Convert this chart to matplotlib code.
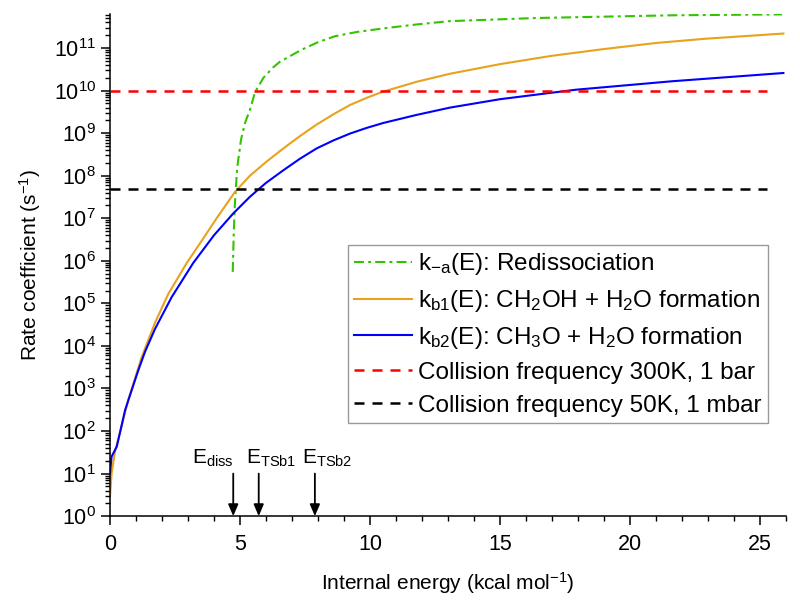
import numpy as np
import matplotlib
matplotlib.use("Agg")
import matplotlib.pyplot as plt
from matplotlib.ticker import LogLocator, MultipleLocator, LogFormatterMathtext, NullFormatter

plt.rcParams["font.family"] = ["Liberation Sans", "DejaVu Sans"]
plt.rcParams["mathtext.fontset"] = "custom"
plt.rcParams["mathtext.rm"] = "Liberation Sans"
plt.rcParams["mathtext.it"] = "Liberation Sans:italic"
plt.rcParams["mathtext.default"] = "regular"

# k_-a(E): redissociation
e_a = [4.72, 4.76, 4.80, 4.85, 4.90, 5.04, 5.20, 5.38, 5.58, 5.90, 6.27, 6.54, 7.36,
       8.0, 8.65, 9.5, 10.6, 11.8, 13.05, 16.4, 21.6, 25.85]
k_a = [5.5e5, 4.5e6, 2.0e7, 6.3e7, 1.7e8, 7.1e8, 1.8e9, 3.5e9, 9.3e9, 2.0e10, 3.5e10,
       4.8e10, 9.1e10, 1.38e11, 1.9e11, 2.4e11, 2.95e11, 3.6e11, 4.3e11, 5.1e11,
       5.9e11, 6.2e11]

# k_b1(E): CH2OH + H2O formation
e_b1 = [0.0, 0.06, 0.2, 0.38, 0.7, 1.22, 1.73, 2.24, 2.95, 3.5, 4.1, 4.81, 5.38, 6.0,
        6.67, 7.3, 7.95, 8.6, 9.23, 9.9, 10.51, 11.8, 13.08, 15.0, 17.0, 19.0, 21.0,
        22.9, 25.9]
k_b1 = [2.8e0, 1.0e1, 3.5e1, 8.9e1, 5.4e2, 5.5e3, 3.5e4, 1.66e5, 8.9e5, 2.8e6, 1.0e7,
        4.2e7, 1.0e8, 2.1e8, 4.4e8, 8.5e8, 1.6e9, 2.8e9, 4.6e9, 6.9e9, 9.5e9, 1.62e10,
        2.5e10, 4.2e10, 6.6e10, 9.5e10, 1.32e11, 1.66e11, 2.2e11]

# k_b2(E): CH3O + H2O formation
e_b2 = [0.0, 0.06, 0.26, 0.58, 1.09, 1.35, 1.73, 2.37, 3.2, 4.0, 4.74, 5.38, 6.0, 6.67,
        7.3, 7.95, 8.6, 9.23, 9.85, 10.51, 11.8, 13.08, 15.0, 17.9, 21.6, 25.9]
k_b2 = [1.0e1, 2.5e1, 4.3e1, 3.1e2, 2.7e3, 7.4e3, 2.5e4, 1.4e5, 8.9e5, 4.0e6, 1.3e7,
        3.2e7, 6.8e7, 1.35e8, 2.5e8, 4.4e8, 6.8e8, 9.8e8, 1.32e9, 1.74e9, 2.7e9,
        4.0e9, 6.3e9, 1.05e10, 1.66e10, 2.6e10]

# collision frequencies
cf_e = [0.0, 25.27]
cf_300k = 1.0e10
cf_50k = 4.8e7

# energy markers
mark_names = [r"E$_{diss}$", r"E$_{TSb1}$", r"E$_{TSb2}$"]
mark_e = [4.74, 5.72, 7.88]

fig = plt.figure(figsize=(8, 6.13), dpi=100)
ax = fig.add_axes([0.1375, 0.158, 0.845, 0.819])

ax.plot(e_a, k_a, color="#33c400", lw=1.5, dashes=(4.8, 2.0, 1.4, 2.0),
        label=r"k$_{-a}$(E): Redissociation")
ax.plot(e_b1, k_b1, color="#e8a21c", lw=1.5,
        label=r"k$_{b1}$(E): CH$_2$OH + H$_2$O formation")
ax.plot(e_b2, k_b2, color="#0000ff", lw=1.5,
        label=r"k$_{b2}$(E): CH$_3$O + H$_2$O formation")
ax.plot(cf_e, [cf_300k] * 2, color="#ff0000", lw=1.8, dashes=(4, 3.2),
        label="Collision frequency 300K, 1 bar")
ax.plot(cf_e, [cf_50k] * 2, color="black", lw=1.8, dashes=(4, 3.2),
        label="Collision frequency 50K, 1 mbar")

ax.set_yscale("log")
ax.set_xlim(0, 26)
ax.set_ylim(1, 6.3e11)

for name, e in zip(mark_names, mark_e):
    ax.annotate("", xy=(e, 1.0), xytext=(e, 10.0),
                arrowprops=dict(arrowstyle="-|>,head_length=0.7,head_width=0.3",
                                color="black", lw=1.3, shrinkA=0, shrinkB=0))
    if name == mark_names[0]:
        ax.text(e + 0.02, 12.5, name, ha="right", va="bottom", fontsize=15)
    else:
        ax.text(e - 0.5, 12.5, name, ha="left", va="bottom", fontsize=15)

ax.spines["top"].set_visible(False)
ax.spines["right"].set_visible(False)
ax.spines["left"].set_linewidth(1.1)
ax.spines["bottom"].set_linewidth(1.1)

ax.xaxis.set_major_locator(MultipleLocator(5))
ax.xaxis.set_minor_locator(MultipleLocator(1))
ax.yaxis.set_major_locator(LogLocator(base=10, numticks=20))
ax.yaxis.set_minor_locator(LogLocator(base=10, subs=np.arange(2, 10), numticks=20))
ax.yaxis.set_major_formatter(LogFormatterMathtext())
ax.yaxis.set_minor_formatter(NullFormatter())
ax.tick_params(which="major", direction="out", length=6.5, width=1.1, labelsize=15.5)
ax.tick_params(which="minor", direction="out", length=3.8, width=1.0)
ax.tick_params(axis="x", which="major", pad=6)

ax.set_xlabel(r"Internal energy (kcal mol$^{-1}$)", fontsize=15, labelpad=11)
ax.set_ylabel(r"Rate coefficient (s$^{-1}$)", fontsize=15, labelpad=8)

leg = ax.legend(loc="upper right", bbox_to_anchor=(0.973, 0.54), borderaxespad=0,
                fontsize=17.5, frameon=True, fancybox=False, edgecolor="#808080",
                handlelength=2.4, handletextpad=0.25, labelspacing=0.45,
                borderpad=0.25)
leg.get_frame().set_linewidth(1.0)

fig.savefig("out.png", dpi=100)
